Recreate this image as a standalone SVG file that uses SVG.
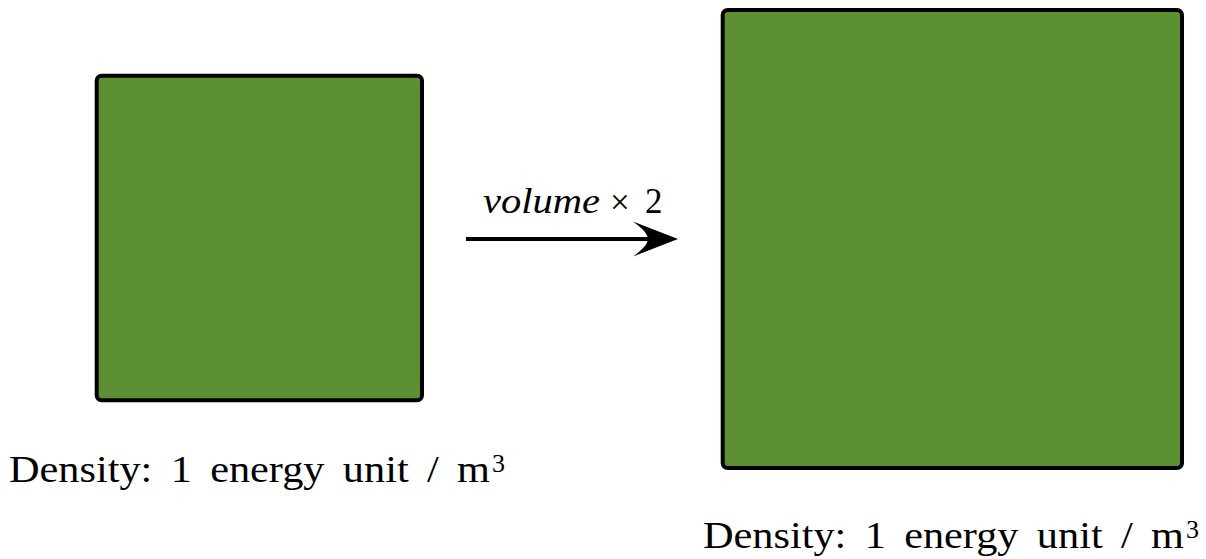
<svg xmlns="http://www.w3.org/2000/svg" width="1206" height="559" viewBox="0 0 1206 559">
<style>
.box{fill:#5c8f32;stroke:#000;stroke-width:4;}
.lbl{font-family:"Liberation Serif",serif;font-size:38px;fill:#000;word-spacing:7px;}
.sup{font-family:"Liberation Serif",serif;font-size:26px;fill:#000;}
.it{font-family:"Liberation Serif",serif;font-style:italic;font-size:35px;fill:#000;}
.rm{font-family:"Liberation Serif",serif;font-size:35px;fill:#000;}
</style>
<g id="box-small"><rect class="box" x="96.7" y="75.7" width="325.3" height="324.6" rx="5"/></g>
<g id="box-large"><rect class="box" x="722.7" y="10" width="459.3" height="458" rx="5"/></g>
<g id="connectors">
<line x1="466" y1="239" x2="650" y2="239" stroke="#000" stroke-width="4"/>
<path d="M678,239 L633,221.5 Q650,234 647,239 Q650,244 633,256.5 Z" fill="#000"/>
</g>
<g id="arrow-label">
<text class="it" x="483" y="213" textLength="117" lengthAdjust="spacingAndGlyphs">volume</text>
<text class="rm" x="610" y="214" font-size="44">×</text>
<text class="rm" x="645" y="213">2</text>
</g>
<g id="label-small">
<text class="lbl" x="9" y="482" textLength="481" lengthAdjust="spacingAndGlyphs">Density: 1 energy unit / m</text>
<text class="sup" x="492" y="472">3</text>
</g>
<g id="label-large">
<text class="lbl" x="703" y="548" textLength="481" lengthAdjust="spacingAndGlyphs">Density: 1 energy unit / m</text>
<text class="sup" x="1186" y="538">3</text>
</g>
</svg>
